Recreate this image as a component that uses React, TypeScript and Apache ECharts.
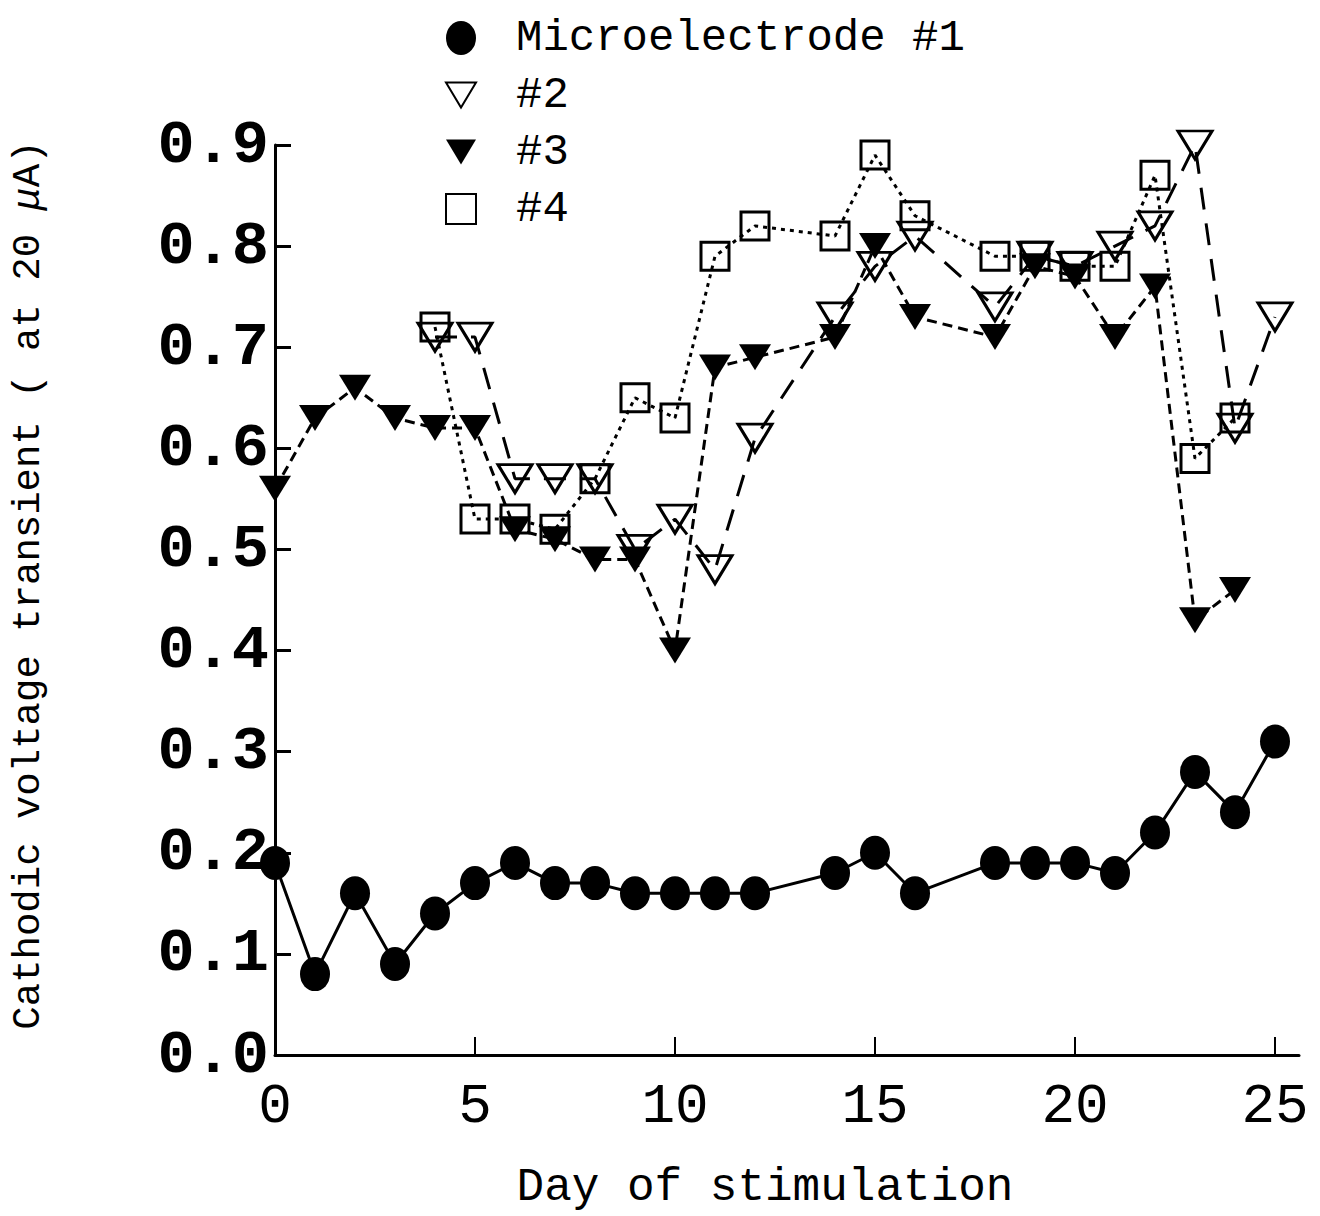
import React, { useEffect, useRef } from "react";
import * as echarts from "echarts";

// Day of stimulation and cathodic voltage transient values per microelectrode
const days1 = [0, 1, 2, 3, 4, 5, 6, 7, 8, 9, 10, 11, 12, 14, 15, 16, 18, 19, 20, 21, 22, 23, 24, 25];
const vals1 = [0.19, 0.08, 0.16, 0.09, 0.14, 0.17, 0.19, 0.17, 0.17, 0.16, 0.16, 0.16, 0.16, 0.18, 0.2, 0.16, 0.19, 0.19, 0.19, 0.18, 0.22, 0.28, 0.24, 0.31];

const days2 = [4, 5, 6, 7, 8, 9, 10, 11, 12, 14, 15, 16, 18, 19, 20, 21, 22, 23, 24, 25];
const vals2 = [0.71, 0.71, 0.57, 0.57, 0.57, 0.5, 0.53, 0.48, 0.61, 0.73, 0.78, 0.81, 0.74, 0.79, 0.78, 0.8, 0.82, 0.9, 0.62, 0.73];

const days3 = [0, 1, 2, 3, 4, 5, 6, 7, 8, 9, 10, 11, 12, 14, 15, 16, 18, 19, 20, 21, 22, 23, 24];
const vals3 = [0.56, 0.63, 0.66, 0.63, 0.62, 0.62, 0.52, 0.51, 0.49, 0.49, 0.4, 0.68, 0.69, 0.71, 0.8, 0.73, 0.71, 0.78, 0.77, 0.71, 0.76, 0.43, 0.46];

const days4 = [4, 5, 6, 7, 8, 9, 10, 11, 12, 14, 15, 16, 18, 19, 20, 21, 22, 23, 24];
const vals4 = [0.72, 0.53, 0.53, 0.52, 0.57, 0.65, 0.63, 0.79, 0.82, 0.81, 0.89, 0.83, 0.79, 0.79, 0.78, 0.78, 0.87, 0.59, 0.63];

const seriesNames = ["Microelectrode #1", "#2", "#3", "#4"];
const xTicks = [0, 5, 10, 15, 20, 25];
const xTitle = "Day of stimulation";
const yTitle = "Cathodic voltage transient ( at 20 {mu|μ}A)";

const MONO = "'Liberation Mono', 'DejaVu Sans Mono', monospace";
const ELLIPSE = "path://M0,17a15,17 0 1,0 30,0a15,17 0 1,0 -30,0Z";
const DOWN_TRI = "path://M0,0L30,0L15,25Z";
const SQUARE = "path://M0,0L28,0L28,28L0,28Z";

const pairs = (d: number[], v: number[]) => d.map((x, i) => [x, v[i]]);

export default function App() {
  const ref = useRef<HTMLDivElement>(null);
  useEffect(() => {
    if (!ref.current) return;
    const chart = echarts.init(ref.current, null, { renderer: "svg" });
    const openStyle = { color: "rgba(0,0,0,0)", borderColor: "#000", borderWidth: 3 };
    chart.setOption({
      animation: false,
      backgroundColor: "#fff",
      grid: { left: 275, right: 21, top: 145, bottom: 161 },
      legend: {
        orient: "vertical",
        left: 440,
        top: 11,
        itemWidth: 30,
        itemHeight: 36,
        itemGap: 13,
        symbolKeepAspect: true,
        selectedMode: false,
        textStyle: {
          fontFamily: MONO,
          fontSize: 44,
          lineHeight: 44,
          color: "#000",
          padding: [0, 0, 0, 35],
        },
        data: [
          { name: seriesNames[0], icon: ELLIPSE },
          { name: seriesNames[1], icon: DOWN_TRI },
          { name: seriesNames[2], icon: DOWN_TRI },
          { name: seriesNames[3], icon: SQUARE },
        ],
      },
      xAxis: {
        type: "value",
        min: 0,
        max: 25.6,
        interval: 5,
        name: xTitle,
        nameLocation: "middle",
        nameGap: 110,
        nameTextStyle: {
          fontFamily: MONO,
          fontSize: 46,
          color: "#000",
          padding: [0, 44, 0, 0],
        },
        axisLine: { lineStyle: { color: "#000", width: 3 } },
        axisTick: {
          inside: true,
          length: 18,
          lineStyle: { color: "#000", width: 2 },
          customValues: xTicks,
        },
        axisLabel: {
          customValues: xTicks,
          fontFamily: MONO,
          fontSize: 56,
          color: "#000",
          margin: 24,
        },
        splitLine: { show: false },
      },
      yAxis: {
        type: "value",
        min: 0,
        max: 0.9,
        interval: 0.1,
        name: yTitle,
        nameLocation: "middle",
        nameRotate: 90,
        nameGap: 227,
        nameTextStyle: {
          fontFamily: MONO,
          fontSize: 39,
          color: "#000",
          padding: [0, 0, 0, 30],
          rich: {
            mu: { fontFamily: MONO, fontSize: 39, fontStyle: "italic", color: "#000" },
          },
        },
        axisLine: { lineStyle: { color: "#000", width: 3 } },
        axisTick: { inside: true, length: 16, lineStyle: { color: "#000", width: 3 } },
        axisLabel: {
          fontFamily: MONO,
          fontWeight: "bold",
          fontSize: 62,
          color: "#000",
          margin: 6,
          formatter: (v: number) => v.toFixed(1),
        },
        splitLine: { show: false },
      },
      series: [
        {
          name: seriesNames[0],
          type: "line",
          data: pairs(days1, vals1),
          symbol: ELLIPSE,
          symbolSize: [30, 34],
          symbolKeepAspect: false,
          showAllSymbol: true,
          lineStyle: { color: "#000", width: 3, type: "solid" },
          itemStyle: { color: "#000" },
          z: 4,
        },
        {
          name: seriesNames[1],
          type: "line",
          data: pairs(days2, vals2),
          symbol: "triangle",
          symbolRotate: 180,
          symbolSize: [34, 28],
          showAllSymbol: true,
          lineStyle: { color: "#000", width: 3, type: [22, 14] },
          itemStyle: openStyle,
          z: 3,
        },
        {
          name: seriesNames[2],
          type: "line",
          data: pairs(days3, vals3),
          symbol: "triangle",
          symbolRotate: 180,
          symbolSize: [32, 26],
          showAllSymbol: true,
          lineStyle: { color: "#000", width: 3, type: [10, 6] },
          itemStyle: { color: "#000" },
          z: 2,
        },
        {
          name: seriesNames[3],
          type: "line",
          data: pairs(days4, vals4),
          symbol: "rect",
          symbolSize: 28,
          showAllSymbol: true,
          lineStyle: { color: "#000", width: 3, type: [4, 5] },
          itemStyle: openStyle,
          z: 1,
        },
      ],
    });
    return () => chart.dispose();
  }, []);
  return (
    <div
      ref={ref}
      style={{ position: "absolute", left: 0, top: 0, width: 1320, height: 1216, background: "#fff" }}
    />
  );
}
